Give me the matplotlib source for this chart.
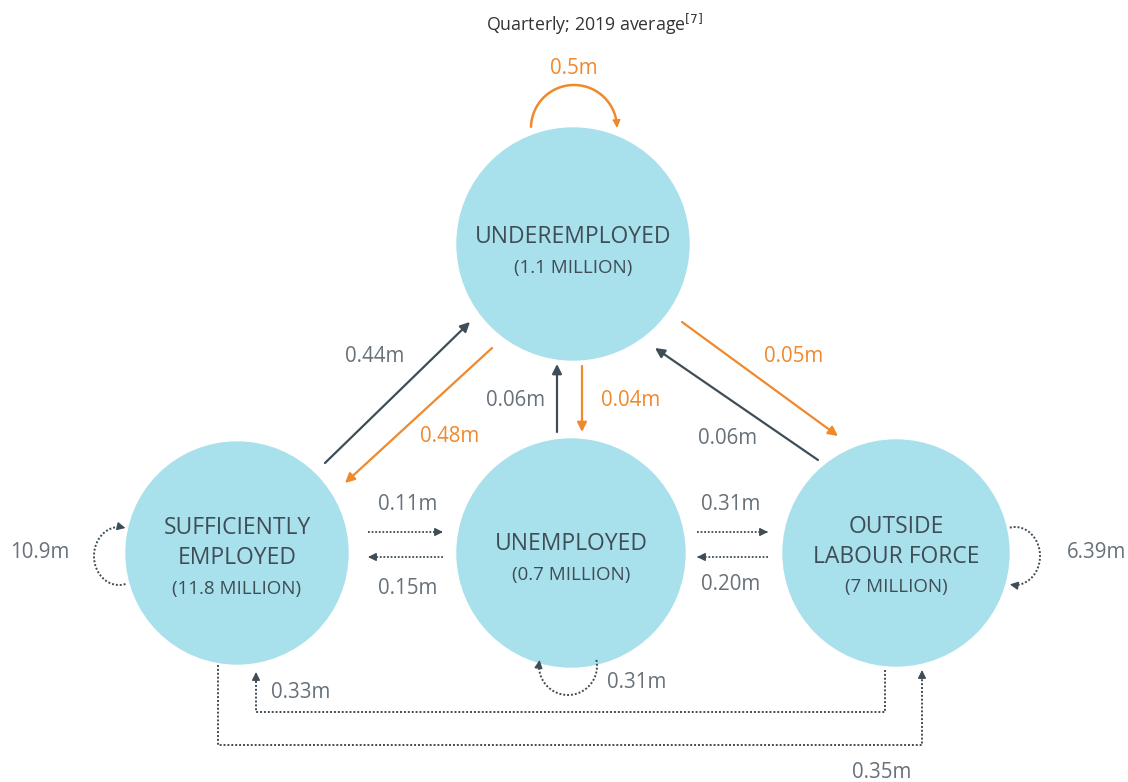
import numpy as np
import matplotlib.pyplot as plt
from matplotlib.patches import Circle

plt.rcParams['font.family'] = ['Open Sans', 'DejaVu Sans']

# states: name lines, size label, centre (px), radius (px)
states = ['UNDEREMPLOYED', 'SUFFICIENTLY\nEMPLOYED', 'UNEMPLOYED', 'OUTSIDE\nLABOUR FORCE']
sizes = ['(1.1 MILLION)', '(11.8 MILLION)', '(0.7 MILLION)', '(7 MILLION)']

# flows between states (millions, quarterly)
flow_labels = ['0.44m', '0.48m', '0.06m', '0.04m', '0.05m', '0.06m']
side_labels = ['0.11m', '0.15m', '0.31m', '0.20m']
loop_labels = ['0.5m', '10.9m', '6.39m', '0.31m']
bottom_labels = ['0.33m', '0.35m']

circle_col = '#a8e0eb'
dark = '#3f4d56'
grey = '#66717a'
orange = '#f0892c'

fig = plt.figure(figsize=(11.28, 7.82), dpi=100)
ax = fig.add_axes([0, 0, 1, 1])
ax.set_xlim(0, 1128)
ax.set_ylim(782, 0)
ax.axis('off')


def arrow(x0, y0, x1, y1, color, ls='-', lw=1.6):
    if ls == '-':
        ax.annotate('', xy=(x1, y1), xytext=(x0, y0),
                    arrowprops=dict(arrowstyle='-|>', color=color, lw=lw,
                                    mutation_scale=14, shrinkA=0, shrinkB=0))
    else:
        ax.plot([x0, x1], [y0, y1], color=color, lw=lw, ls=(0, (1, 1)))
        head(x1, y1, x1 - x0, y1 - y0, color)


def head(x, y, dx, dy, color):
    n = np.hypot(dx, dy)
    ax.annotate('', xy=(x, y), xytext=(x - dx / n * 8, y - dy / n * 8),
                arrowprops=dict(arrowstyle='-|>', color=color, lw=1,
                                mutation_scale=12, shrinkA=0, shrinkB=0))


def loop(cx, cy, rx, ry, t0, t1, color, ls):
    t = np.radians(np.linspace(t0, t1, 80))
    x = cx + rx * np.cos(t)
    y = cy + ry * np.sin(t)
    ax.plot(x[:-3], y[:-3], color=color, lw=1.8 if ls == '-' else 1.4, ls=ls if ls == '-' else (0, (1, 1)))
    head(x[-1], y[-1], x[-1] - x[-4], y[-1] - y[-4], color)


def poly(xs, ys, color):
    ax.plot(xs[:-1] + [xs[-1]], ys[:-1] + [ys[-1] + 6], color=color, lw=1.4, ls=(0, (1, 1)))
    head(xs[-1], ys[-1], xs[-1] - xs[-2], ys[-1] - ys[-2], color)


# circles
centres = [(573, 244), (237, 553), (571, 553), (896, 553)]
radii = [116, 111, 114, 113]
for (cx, cy), r in zip(centres, radii):
    ax.add_patch(Circle((cx, cy), r, color=circle_col, zorder=0))

name_y = [237, 543, 544, 542]
size_y = [268, 589, 575, 587]
for (cx, cy), name, size, ny, sy in zip(centres, states, sizes, name_y, size_y):
    ax.text(cx, ny, name, ha='center', va='center', fontsize=16.5, color=dark,
            linespacing=1.35)
    ax.text(cx, sy, size, ha='center', va='center', fontsize=13.5, color=dark)

ax.text(595, 24, 'Quarterly; 2019 average$^{[7]}$', ha='center', va='center',
        fontsize=12.8, color='#333333')

# diagonal and vertical flows
arrow(325, 463, 470, 322, dark)
arrow(492, 348, 345, 483, orange)
arrow(557, 432, 557, 364, dark)
arrow(582, 366, 582, 432, orange)
arrow(682, 322, 838, 436, orange)
arrow(818, 460, 655, 348, dark)
flow_pos = [(375, 356), (450, 437), (516, 401), (631, 400), (794, 356), (728, 438)]
flow_cols = [grey, orange, grey, orange, orange, grey]
for lab, (x, y), c in zip(flow_labels, flow_pos, flow_cols):
    ax.text(x, y, lab, ha='center', va='center', fontsize=14.8, color=c)

# horizontal dotted flows
arrow(368, 532, 443, 532, dark, ls=':', lw=1.3)
arrow(443, 557, 368, 557, dark, ls=':', lw=1.3)
arrow(697, 532, 768, 532, dark, ls=':', lw=1.3)
arrow(768, 557, 697, 557, dark, ls=':', lw=1.3)
side_pos = [(408, 505), (408, 589), (731, 505), (731, 585)]
for lab, (x, y) in zip(side_labels, side_pos):
    ax.text(x, y, lab, ha='center', va='center', fontsize=14.8, color=grey)

# self loops
loop(574, 128, 43, 43, 182, 360, orange, '-')
loop(119, 556, 25, 29, 75, 285, dark, ':')
loop(1015, 556, 25, 29, 258, 462, dark, ':')
loop(568, 666, 29, 29, -12, 192, dark, ':')
loop_pos = [(574, 68), (40, 553), (1097, 553), (637, 683)]
loop_cols = [orange, grey, grey, grey]
for lab, (x, y), c in zip(loop_labels, loop_pos, loop_cols):
    ax.text(x, y, lab, ha='center', va='center', fontsize=14.8, color=c)

# bottom connectors
poly([885, 885, 256, 256], [670, 712, 712, 672], dark)
poly([218, 218, 922, 922], [665, 745, 745, 670], dark)
ax.text(301, 692, bottom_labels[0], ha='center', va='center', fontsize=14.8, color=grey)
ax.text(882, 772, bottom_labels[1], ha='center', va='center', fontsize=14.8, color=grey)

fig.savefig('out.png', dpi=100, facecolor='white')
